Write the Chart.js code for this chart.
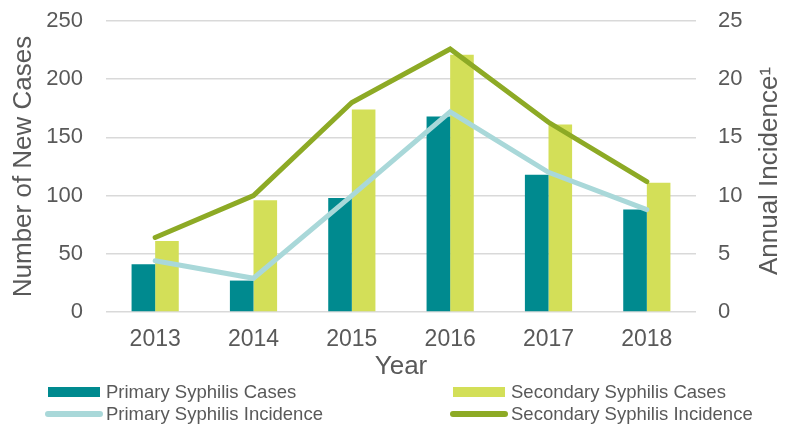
<!DOCTYPE html>
<html>
<head>
<meta charset="utf-8">
<script src="https://cdn.jsdelivr.net/npm/chart.js@4"></script>
<style>
  body { margin: 0; background: #fff; }
  #wrap { position: relative; width: 790px; height: 425px; }
  #legend { position: absolute; left: 0; top: 380px; width: 790px; height: 45px;
    font-family: "Liberation Sans", Arial, sans-serif; font-size: 18.5px; color: #595959; }
  .item { position: absolute; height: 22px; }
  .mark { position: absolute; top: 50%; transform: translateY(-50%); }
  .txt { position: absolute; top: 0; line-height: 22px; white-space: nowrap; }
</style>
</head>
<body>
<div id="wrap">
  <canvas id="chart" width="790" height="425"></canvas>
  <div id="legend"></div>
</div>
<script>
const years = ['2013', '2014', '2015', '2016', '2017', '2018'];
const primaryCases = [41, 27, 98, 168, 118, 88];
const secondaryCases = [61, 96, 174, 221, 161, 111];
const primaryIncidence = [4.4, 2.9, 10.0, 17.2, 12.0, 8.8];
const secondaryIncidence = [6.4, 10.0, 18.0, 22.6, 16.3, 11.2];

const grey = '#595959';
const font = 'Liberation Sans, Arial, sans-serif';

// right title reads bottom-to-top, chart.js rotates the other way, so draw it here
const rightTitle = {
  id: 'rightTitle',
  afterDraw(chart) {
    const ctx = chart.ctx;
    ctx.save();
    ctx.translate(770, 171);
    ctx.rotate(-Math.PI / 2);
    ctx.font = '26px ' + font;
    ctx.fillStyle = grey;
    ctx.textAlign = 'center';
    ctx.textBaseline = 'middle';
    ctx.fillText('Annual Incidence\u00B9', 0, 0);
    ctx.restore();
  }
};

const ctx = document.getElementById('chart').getContext('2d');
const chart = new Chart(ctx, {
  type: 'bar',
  data: {
    labels: years,
    datasets: [
      { type: 'bar', label: 'Primary Syphilis Cases', data: primaryCases, backgroundColor: '#008A8F',
        yAxisID: 'y', order: 2, categoryPercentage: 0.48, barPercentage: 1.0 },
      { type: 'bar', label: 'Secondary Syphilis Cases', data: secondaryCases, backgroundColor: '#D3DF58',
        yAxisID: 'y', order: 2, categoryPercentage: 0.48, barPercentage: 1.0 },
      { type: 'line', label: 'Primary Syphilis Incidence', data: primaryIncidence, borderColor: '#A9D8D9',
        borderWidth: 5, pointRadius: 0, tension: 0, yAxisID: 'y1', order: 1, borderCapStyle: 'round' },
      { type: 'line', label: 'Secondary Syphilis Incidence', data: secondaryIncidence, borderColor: '#8DAA25',
        borderWidth: 5, pointRadius: 0, tension: 0, yAxisID: 'y1', order: 0, borderCapStyle: 'round' }
    ]
  },
  options: {
    responsive: false,
    animation: false,
    layout: { padding: { top: 21, bottom: 43, left: 0, right: 0 } },
    plugins: { legend: { display: false }, tooltip: { enabled: false } },
    scales: {
      x: {
        grid: { display: false, drawTicks: false },
        border: { display: false },
        ticks: { color: grey, font: { size: 23, family: font }, padding: 14 },
        title: { display: true, text: 'Year', color: grey, font: { size: 26, family: font }, padding: { top: 0, bottom: 0 } },
        afterFit(s) { s.height = 70; }
      },
      y: {
        position: 'left',
        min: 0, max: 250,
        ticks: { stepSize: 50, color: grey, font: { size: 22, family: font }, padding: 23 },
        grid: { color: '#D9D9D9', lineWidth: 1.5, drawTicks: false },
        border: { display: false },
        title: { display: true, text: 'Number of New Cases', color: grey, font: { size: 26, family: font }, padding: { top: 8, bottom: 0 } },
        afterFit(s) { s.width = 106; s.paddingTop = 10; s.paddingBottom = 10; }
      },
      y1: {
        position: 'right',
        min: 0, max: 25,
        ticks: { stepSize: 5, color: grey, font: { size: 22, family: font }, padding: 22 },
        grid: { display: false, drawTicks: false },
        border: { display: false },
        afterFit(s) { s.width = 94; s.paddingTop = 10; s.paddingBottom = 10; }
      }
    }
  },
  plugins: [rightTitle]
});

// legend as html, two columns like the original
const legend = document.getElementById('legend');
const spots = [[48, 1], [453, 1], [48, 23], [453, 23]];
chart.data.datasets.forEach((ds, i) => {
  const item = document.createElement('div');
  item.className = 'item';
  item.style.left = spots[i][0] + 'px';
  item.style.top = spots[i][1] + 'px';
  const mark = document.createElement('span');
  mark.className = 'mark';
  if (ds.type === 'bar') {
    mark.style.left = '0px';
    mark.style.width = '52px';
    mark.style.height = '10px';
    mark.style.background = ds.backgroundColor;
  } else {
    mark.style.left = '-3px';
    mark.style.width = '58px';
    mark.style.height = '6px';
    mark.style.borderRadius = '3px';
    mark.style.background = ds.borderColor;
  }
  const txt = document.createElement('span');
  txt.className = 'txt';
  txt.style.left = '58px';
  txt.textContent = ds.label;
  item.appendChild(mark);
  item.appendChild(txt);
  legend.appendChild(item);
});
</script>
</body>
</html>
